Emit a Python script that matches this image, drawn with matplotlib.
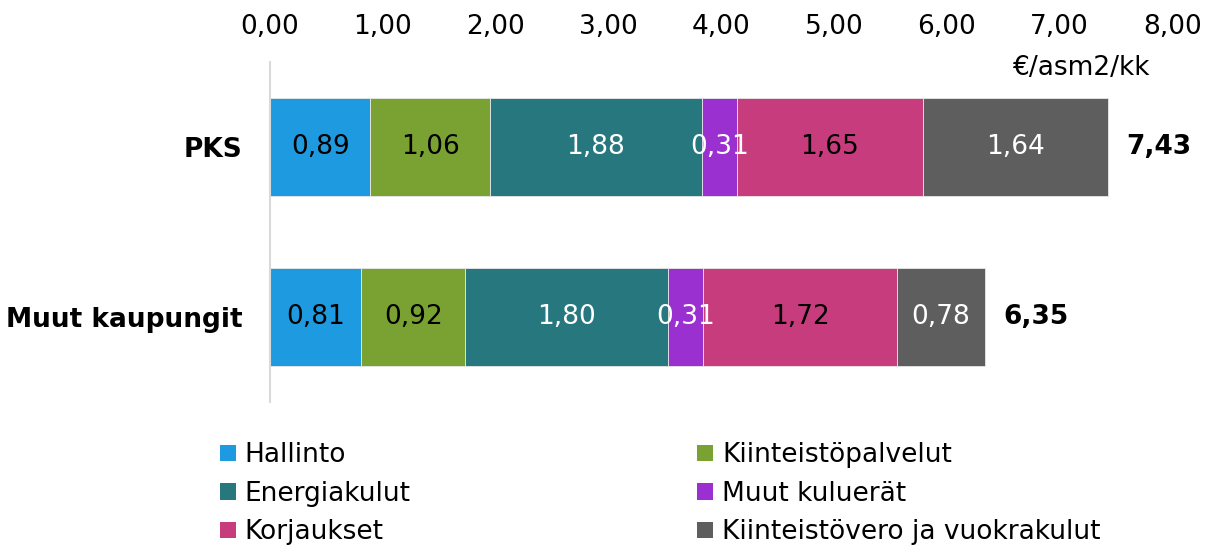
import matplotlib.pyplot as plt
from matplotlib.patches import Patch

categories = ["PKS", "Muut kaupungit"]
series = ["Hallinto", "Kiinteistöpalvelut", "Energiakulut",
          "Muut kuluerät", "Korjaukset", "Kiinteistövero ja vuokrakulut"]
values = {
    "Hallinto": [0.89, 0.81],
    "Kiinteistöpalvelut": [1.06, 0.92],
    "Energiakulut": [1.88, 1.80],
    "Muut kuluerät": [0.31, 0.31],
    "Korjaukset": [1.65, 1.72],
    "Kiinteistövero ja vuokrakulut": [1.64, 0.78],
}
totals = [7.43, 6.35]
colors = ["#1e9be0", "#7aa232", "#27777f", "#9b30d0", "#c63c7d", "#5e5e5e"]
text_colors = ["black", "black", "white", "white", "black", "white"]
xticks = [0, 1, 2, 3, 4, 5, 6, 7, 8]

plt.rcParams["font.family"] = "DejaVu Sans"
fs = 19

fig = plt.figure(figsize=(12.16, 5.48), dpi=100)
ax = fig.add_axes([0.222, 0.2664, 0.742, 0.6205])

def fmt(v):
    return f"{v:.2f}".replace(".", ",")

y = list(range(len(categories)))
left = [0.0] * len(categories)
for s, c, tc in zip(series, colors, text_colors):
    vals = values[s]
    ax.barh(y, vals, left=left, height=0.58, color=c,
            edgecolor="#e8e8e8", linewidth=0.6)
    for i, v in enumerate(vals):
        ax.text(left[i] + v / 2, y[i], fmt(v), ha="center", va="center",
                color=tc, fontsize=fs)
    left = [l + v for l, v in zip(left, vals)]

for i, t in enumerate(totals):
    ax.text(left[i] + 0.16, y[i], fmt(t), ha="left", va="center",
            fontsize=fs, fontweight="bold")

ax.set_xlim(0, 8)
ax.set_ylim(1.5, -0.5)
ax.xaxis.tick_top()
ax.set_xticks(xticks)
ax.set_xticklabels([fmt(x) for x in xticks], fontsize=fs)
ax.tick_params(axis="x", length=0, pad=16)
ax.set_yticks(y)
ax.set_yticklabels(categories, fontsize=fs, fontweight="bold")
ax.tick_params(axis="y", length=0, pad=20)
for sp in ["top", "right", "bottom"]:
    ax.spines[sp].set_visible(False)
ax.spines["left"].set_color("#d9d9d9")
ax.spines["left"].set_linewidth(1.5)

fig.text(0.946, 0.876, "€/asm2/kk", ha="right", va="center", fontsize=fs)

handles = [Patch(facecolor=c) for c in colors]
order = [0, 2, 4, 1, 3, 5]
fig.legend([handles[i] for i in order], [series[i] for i in order],
           ncol=2, loc="upper left", bbox_to_anchor=(0.172, 0.212),
           frameon=False, fontsize=fs, handlelength=0.6, handleheight=0.6,
           handletextpad=0.35, labelspacing=0.47, columnspacing=10.85,
           borderaxespad=0)

fig.savefig("out.png", dpi=100)
